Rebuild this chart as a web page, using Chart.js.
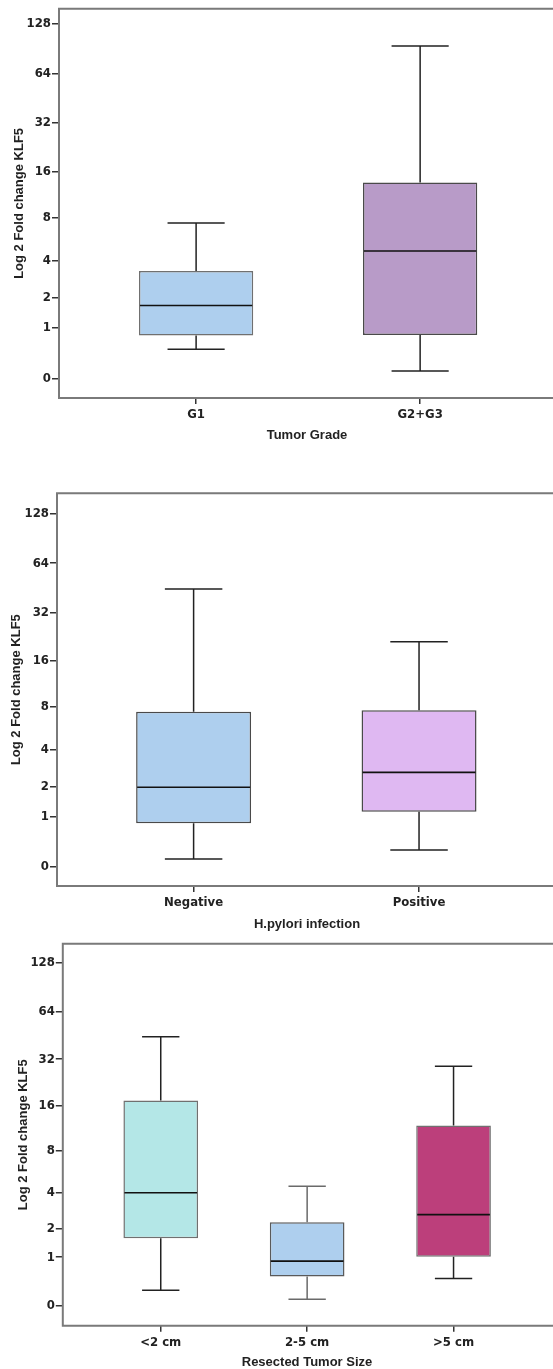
<!DOCTYPE html>
<html>
<head>
<meta charset="utf-8">
<script src="https://cdn.jsdelivr.net/npm/chart.js@4/dist/chart.umd.min.js"></script>
<style>
  html, body { margin: 0; padding: 0; background: #fff; overflow: hidden; }
  body { width: 553px; height: 1369px; position: relative; }
  canvas { position: absolute; left: 0; }
</style>
</head>
<body>
<canvas id="grade" width="560" height="465" style="top:0px"></canvas>
<canvas id="pylori" width="560" height="470" style="top:465px"></canvas>
<canvas id="size" width="560" height="434" style="top:935px"></canvas>
<script>
// y axis tick labels (fold change, shown on a log2(x+1) axis)
var yTickLabels = [0, 1, 2, 4, 8, 16, 32, 64, 128];

// Tumor grade
var gradeCats = ['G1', 'G2+G3'];
var gradeMin = [0.49, 0.105];
var gradeQ1  = [0.80, 0.81];
var gradeMed = [1.71, 4.72];
var gradeQ3  = [3.35, 13.6];
var gradeMax = [7.39, 93.7];

// H.pylori infection
var pyloriCats = ['Negative', 'Positive'];
var pyloriMin = [0.11, 0.26];
var pyloriQ1  = [0.82, 1.13];
var pyloriMed = [1.98, 2.66];
var pyloriQ3  = [7.43, 7.59];
var pyloriMax = [44.6, 21.1];

// Resected tumor size
var sizeCats = ['<2 cm', '2-5 cm', '>5 cm'];
var sizeMin = [0.25, 0.104, 0.48];
var sizeQ1  = [1.61, 0.52, 1.01];
var sizeMed = [3.98, 0.89, 2.65];
var sizeQ3  = [17.4, 2.28, 11.9];
var sizeMax = [44.3, 4.45, 28.8];

function tr(v) { return Math.log2(v + 1); }

var tickFont = { family: "'Liberation Sans Narrow', 'DejaVu Sans Condensed', 'Liberation Sans', sans-serif", size: 13, weight: 'bold' };
var titleFont = { family: "'Liberation Sans', Arial, sans-serif", size: 13, weight: 'bold', lineHeight: 1 };

var boxPlugin = {
  id: 'boxWhiskers',
  afterDatasetsDraw: function(chart) {
    var ds = chart.data.datasets[0];
    var meta = chart.getDatasetMeta(0);
    var ys = chart.scales.y;
    var ctx = chart.ctx;
    ctx.save();
    meta.data.forEach(function(bar, i) {
      var x = bar.x, w = bar.width;
      var pMax = ys.getPixelForValue(tr(ds.stats.max[i]));
      var pMin = ys.getPixelForValue(tr(ds.stats.min[i]));
      var pQ3 = ys.getPixelForValue(tr(ds.stats.q3[i]));
      var pQ1 = ys.getPixelForValue(tr(ds.stats.q1[i]));
      var pMed = ys.getPixelForValue(tr(ds.stats.med[i]));
      ctx.strokeStyle = ds.whiskerColor[i];
      ctx.lineWidth = 1.5;
      ctx.beginPath();
      ctx.moveTo(x, pQ3); ctx.lineTo(x, pMax);
      ctx.moveTo(x - w / 4, pMax); ctx.lineTo(x + w / 4, pMax);
      ctx.moveTo(x, pQ1); ctx.lineTo(x, pMin);
      ctx.moveTo(x - w / 4, pMin); ctx.lineTo(x + w / 4, pMin);
      ctx.stroke();
      ctx.strokeStyle = '#111';
      ctx.lineWidth = 1.6;
      ctx.beginPath();
      ctx.moveTo(x - w / 2 + 1, pMed); ctx.lineTo(x + w / 2 - 1, pMed);
      ctx.stroke();
    });
    ctx.restore();
  },
  afterDraw: function(chart) {
    // frame: top, left and bottom (the right side is cut off in the original)
    var a = chart.chartArea;
    var ctx = chart.ctx;
    ctx.save();
    ctx.strokeStyle = '#7a7a7a';
    ctx.lineWidth = 2;
    ctx.beginPath();
    ctx.moveTo(chart.width, a.top);
    ctx.lineTo(a.left, a.top);
    ctx.lineTo(a.left, a.bottom);
    ctx.lineTo(chart.width, a.bottom);
    ctx.stroke();
    ctx.restore();
  }
};

function makeBox(id, cfg) {
  var n = cfg.cats.length;
  var data = [];
  for (var i = 0; i < n; i++) {
    data.push({ x: i + 1, y: [tr(cfg.q1[i]), tr(cfg.q3[i])] });
  }
  return new Chart(document.getElementById(id), {
    type: 'bar',
    data: {
      datasets: [{
        data: data,
        backgroundColor: cfg.fill,
        borderColor: cfg.border,
        borderWidth: 1.5,
        borderSkipped: false,
        barPercentage: 1,
        categoryPercentage: 0.51,
        whiskerColor: cfg.whisker,
        stats: { min: cfg.min, q1: cfg.q1, med: cfg.med, q3: cfg.q3, max: cfg.max }
      }]
    },
    plugins: [boxPlugin],
    options: {
      responsive: false,
      animation: false,
      layout: { padding: { top: cfg.areaTop, left: 0, right: cfg.padRight, bottom: 0 } },
      plugins: { legend: { display: false }, tooltip: { enabled: false } },
      scales: {
        x: {
          type: 'linear',
          offset: false,
          min: cfg.xMin,
          max: cfg.xMax,
          afterBuildTicks: function(scale) {
            scale.ticks = cfg.cats.map(function(c, i) { return { value: i + 1 }; });
          },
          afterFit: function(scale) { scale.height = cfg.xHeight; },
          ticks: {
            autoSkip: false,
            maxRotation: 0,
            padding: 3,
            color: '#222',
            font: tickFont,
            callback: function(v, i) { return cfg.cats[i]; }
          },
          grid: { display: true, offset: false, drawOnChartArea: false, drawTicks: true, tickLength: 6, color: '#333', lineWidth: 1.5 },
          border: { display: false },
          title: { display: true, text: cfg.xTitle, color: '#222', font: titleFont, padding: { top: 0, bottom: cfg.xTitlePad } }
        },
        y: {
          min: cfg.yMin,
          max: cfg.yMax,
          afterBuildTicks: function(scale) {
            scale.ticks = yTickLabels.map(function(v) { return { value: tr(v) }; });
          },
          afterFit: function(scale) { scale.width = cfg.left; },
          ticks: {
            autoSkip: false,
            padding: 1,
            color: '#222',
            font: tickFont,
            callback: function(v, i) { return String(yTickLabels[i]); }
          },
          grid: { display: true, drawOnChartArea: false, drawTicks: true, tickLength: 7, color: '#333', lineWidth: 1.5 },
          border: { display: false },
          title: { display: true, text: 'Log 2 Fold change KLF5', color: '#222', font: titleFont, padding: { top: cfg.yTitlePad, bottom: 0 } }
        }
      }
    }
  });
}

makeBox('grade', {
  cats: gradeCats, min: gradeMin, q1: gradeQ1, med: gradeMed, q3: gradeQ3, max: gradeMax,
  fill: ['#aecfee', '#b89bc8'], border: ['#707070', '#4a4a4a'], whisker: ['#222', '#222'],
  areaTop: 7.5, xHeight: 67, left: 59, padRight: 5, xMin: 0.388, xMax: 2.602, yMin: -0.388, yMax: 7.30,
  xTitle: 'Tumor Grade', xTitlePad: 23.5, yTitlePad: 12.5
});

makeBox('pylori', {
  cats: pyloriCats, min: pyloriMin, q1: pyloriQ1, med: pyloriMed, q3: pyloriQ3, max: pyloriMax,
  fill: ['#aecfee', '#dfb8f2'], border: ['#4a4a4a', '#4a4a4a'], whisker: ['#222', '#222'],
  areaTop: 28.3, xHeight: 49, left: 57, padRight: 3, xMin: 0.394, xMax: 2.612, yMin: -0.383, yMax: 7.41,
  xTitle: 'H.pylori infection', xTitlePad: 4.2, yTitlePad: 10
});

makeBox('size', {
  cats: sizeCats, min: sizeMin, q1: sizeQ1, med: sizeMed, q3: sizeQ3, max: sizeMax,
  fill: ['#b4e7e7', '#aecfee', '#bc3f7b'], border: ['#707070', '#5a5a5a', '#707070'], whisker: ['#222', '#6a6a6a', '#222'],
  areaTop: 7.7, xHeight: 43.3, left: 62.8, padRight: 8.8, xMin: 0.331, xMax: 3.667, yMin: -0.40, yMax: 7.40,
  xTitle: 'Resected Tumor Size', xTitlePad: 0.2, yTitlePad: 16.5
});
</script>
</body>
</html>
